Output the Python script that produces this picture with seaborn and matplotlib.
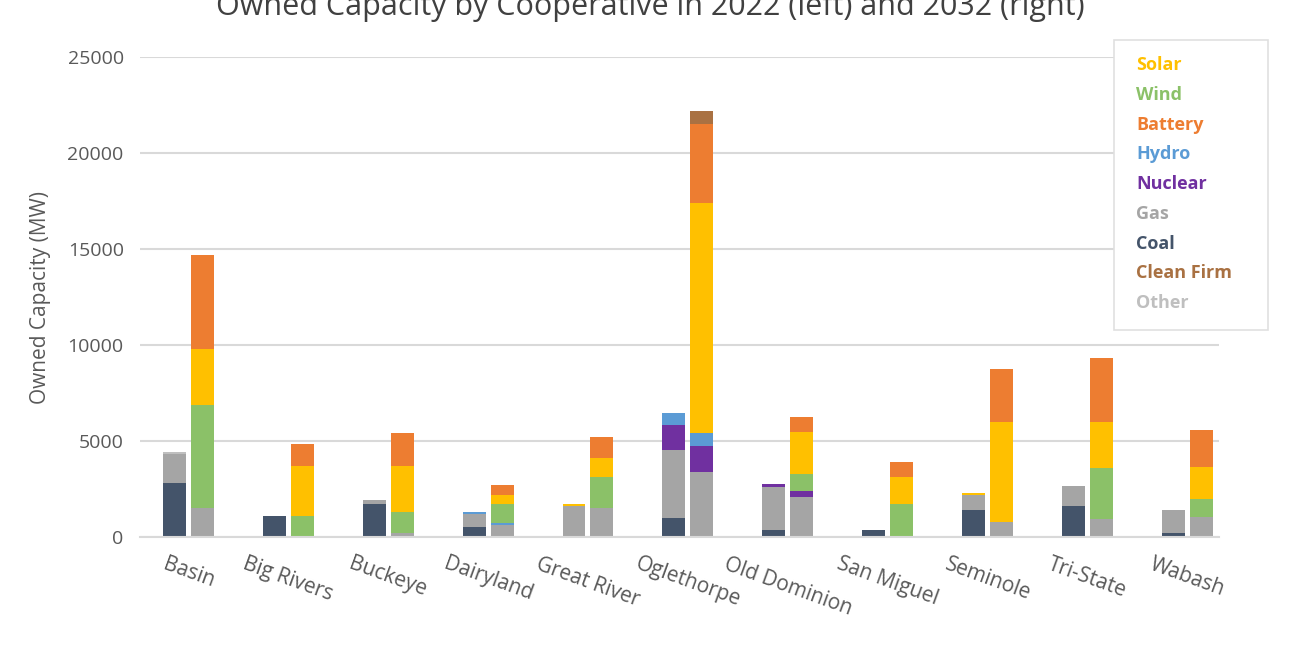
import matplotlib
matplotlib.use("Agg")
import matplotlib.pyplot as plt
import seaborn as sns
import numpy as np

coops = ["Basin","Big Rivers","Buckeye","Dairyland","Great River","Oglethorpe",
         "Old Dominion","San Miguel","Seminole","Tri-State","Wabash"]
stack_order = ["Coal","Gas","Other","Nuclear","Hydro","Wind","Solar","Battery","Clean Firm"]
# 2022 values (MW)
y2022 = {
 "Coal":   [2800,1100,1700,500,0,1000,350,350,1400,1600,200],
 "Gas":    [1500,0,200,700,1600,3550,2250,0,800,1050,1200],
 "Other":  [150,0,0,0,0,0,0,0,0,0,0],
 "Nuclear":[0,0,0,0,0,1300,170,0,0,0,0],
 "Hydro":  [0,0,0,100,0,600,0,0,0,0,0],
 "Wind":   [0,0,0,0,0,0,0,0,0,0,0],
 "Solar":  [0,0,0,0,100,0,0,0,100,0,0],
 "Battery":[0,0,0,0,0,0,0,0,0,0,0],
 "Clean Firm":[0,0,0,0,0,0,0,0,0,0,0],
}
# 2032 values (MW)
y2032 = {
 "Coal":   [0,0,0,0,0,0,0,0,0,0,0],
 "Gas":    [1500,0,200,600,1500,3400,2100,0,800,950,1050],
 "Other":  [0,0,0,0,0,0,0,0,0,0,0],
 "Nuclear":[0,0,0,0,0,1350,300,0,0,0,0],
 "Hydro":  [0,0,0,100,0,650,0,0,0,0,0],
 "Wind":   [5400,1100,1100,1000,1600,0,900,1700,0,2650,950],
 "Solar":  [2900,2600,2400,500,1000,12000,2150,1400,5200,2400,1650],
 "Battery":[4900,1150,1700,500,1100,4100,800,800,2750,3300,1900],
 "Clean Firm":[0,0,0,0,0,700,0,0,0,0,0],
}
colors = {"Solar":"#FFC000","Wind":"#8BC168","Battery":"#ED7D31","Hydro":"#5B9BD5",
          "Nuclear":"#7030A0","Gas":"#A5A5A5","Coal":"#44546A","Clean Firm":"#A97142",
          "Other":"#BFBFBF"}
legend_order = ["Solar","Wind","Battery","Hydro","Nuclear","Gas","Coal","Clean Firm","Other"]

sns.set_style("white")
plt.rcParams['font.family'] = ['Open Sans','DejaVu Sans']
fig = plt.figure(figsize=(13,6.5), dpi=100)
ax = fig.add_axes([0.108,0.174,0.83,0.738])
x = np.arange(len(coops))
w = 0.23
for data, off in [(y2022,-0.14),(y2032,0.14)]:
    bottom = np.zeros(len(coops))
    for k in stack_order:
        v = np.array(data[k], dtype=float)
        ax.bar(x+off, v, w, bottom=bottom, color=colors[k], linewidth=0)
        bottom += v
ax.set_xlim(-0.48,10.32)
ax.set_ylim(0,25000)
ax.set_yticks(range(0,25001,5000))
ax.yaxis.grid(True, color="#D9D9D9", linewidth=1.5)
ax.set_axisbelow(True)
for s in ["top","right","left"]:
    ax.spines[s].set_visible(False)
ax.spines["bottom"].set_color("#D9D9D9")
ax.spines["bottom"].set_linewidth(1.5)
ax.tick_params(axis='y', labelsize=14, colors="#595959", length=0, pad=12)
ax.set_xticks(x)
ax.set_xticklabels(coops, rotation=-20, ha="center", fontsize=15, color="#595959")
ax.tick_params(axis='x', length=0, pad=12)
ax.set_ylabel("Owned Capacity (MW)", fontsize=15, color="#595959", labelpad=12)
fig.text(0.5, 0.99, "Owned Capacity by Cooperative in 2022 (left) and 2032 (right)",
         ha="center", va="center", fontsize=22, color="#404040")
# legend
lx0 = 0.857
fig.patches.append(plt.Rectangle((lx0, 0.492), 0.118, 0.446, transform=fig.transFigure,
                   facecolor="white", edgecolor="#E0E0E0", linewidth=1.2))
for i, k in enumerate(legend_order):
    fig.text(0.874, 0.90 - i*0.0458, k, color=colors[k], fontsize=13, fontweight="bold",
             va="center", ha="left")
fig.savefig("out.png", dpi=100)
